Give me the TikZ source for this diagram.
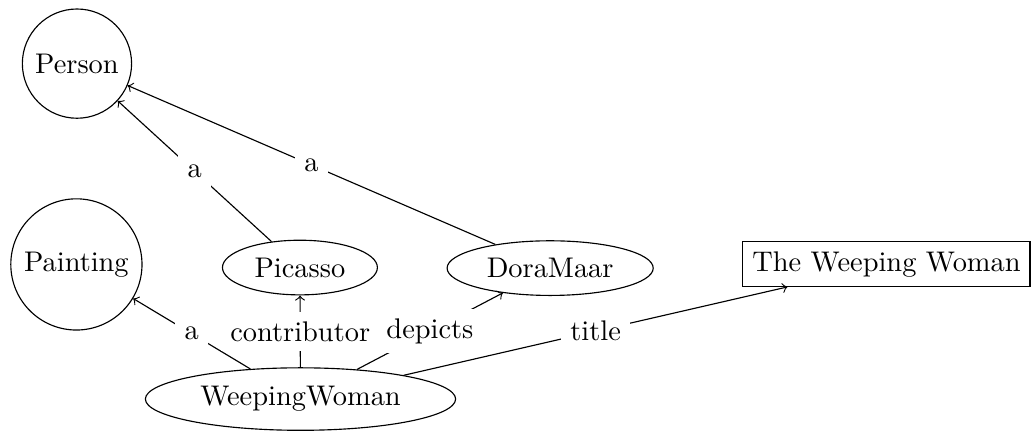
\documentclass[tikz,border=0pt]{standalone}
\usetikzlibrary{shapes.geometric}
\begin{document}
\begin{tikzpicture}[
  cls/.style={draw, circle},
  res/.style={draw, ellipse},
  lit/.style={draw, rectangle},
  rel/.style={->},
  lbl/.style={fill=white, midway}
]
\useasboundingbox (0pt,0pt) rectangle (363pt,-152.1pt);
\node[cls] (person) at (27.1pt,-22.4pt) {Person};
\node[cls] (painting) at (26.9pt,-93.1pt) {Painting};
\node[res] (picasso) at (105.6pt,-94.2pt) {Picasso};
\node[res] (dora) at (193.7pt,-94.4pt) {DoraMaar};
\node[lit] (title) at (312.1pt,-93.0pt) {The Weeping Woman};
\node[res] (ww) at (105.8pt,-140.5pt) {WeepingWoman};
\draw[rel] (picasso) -- node[lbl] {a} (person);
\draw[rel] (dora) -- node[lbl] {a} (person);
\draw[rel] (ww) -- node[lbl] {a} (painting);
\draw[rel] (ww) -- node[lbl] {contributor} (picasso);
\draw[rel] (ww) -- node[lbl] {depicts} (dora);
\draw[rel] (ww) -- node[lbl] {title} (title);
\end{tikzpicture}
\end{document}
